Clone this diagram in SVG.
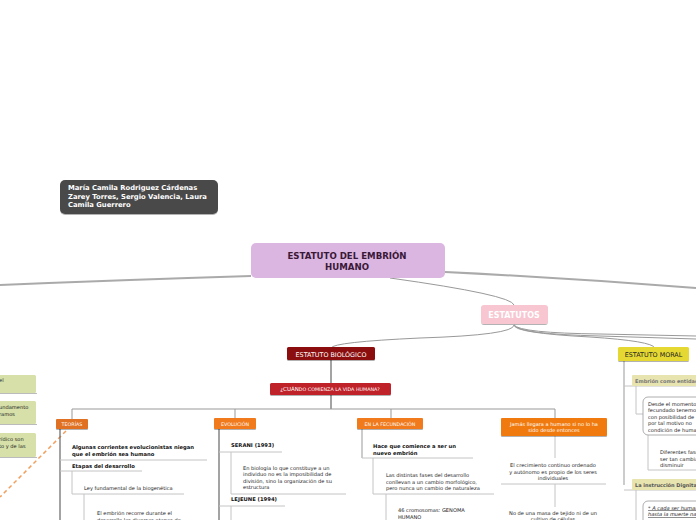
<svg xmlns="http://www.w3.org/2000/svg" width="696" height="520" viewBox="0 0 696 520">
<defs>
<style>
.t{font-family:"DejaVu Sans",Verdana,sans-serif;}
.b{font-weight:bold;}
.sm{font-size:5.1px;fill:#222;}
.smb{font-size:5.25px;fill:#111;font-weight:bold;}
.w{fill:#fff;}
.thick{stroke:#aaa;stroke-width:2;fill:none;}
.c{stroke:#999;stroke-width:1;fill:none;}
.d{stroke:#666;stroke-width:1.2;fill:none;}
.l{stroke:#c4c4c4;stroke-width:1;fill:none;}
.gr{fill:#d6e0a8;}
</style>
<filter id="sh" x="-10%" y="-10%" width="120%" height="140%"><feDropShadow dx="0" dy="1" stdDeviation="0.6" flood-color="#000" flood-opacity="0.3"/></filter>
</defs>
<rect width="696" height="520" fill="#fff"/>
<g id="connectors">
<path class="thick" d="M251,276 Q120,280 0,285"/>
<path class="thick" d="M445,272 Q570,278 696,288"/>
<path class="c" d="M390,278 Q512,295 514,305"/>
<path class="c" d="M514,325 Q514,335 420,338 Q333,342 331,348"/>
<path class="c" d="M514,325 Q514,333 590,337 Q652,341 655,348"/>
<path class="c" d="M514,325 Q518,334 600,336 L696,339"/>
<path class="c" d="M514,325 Q520,333 600,334 L696,336"/>
<path class="d" d="M331,360 V383"/>
<path class="d" d="M331,395 V409"/>
<path class="c" d="M72,409 H555 M72,409 V419 M235,409 V418 M391,409 V418 M555,409 V418"/>
<path d="M66,431 L0,497" stroke="#f0a060" stroke-width="1.5" stroke-dasharray="4,3" fill="none"/>
<path class="d" d="M60,429 V520"/>
<path class="l" d="M60,460 H207 M60,471 H142 M72,471 V494 H184 M84,494 V520"/>
<path class="d" d="M219,429 V520"/>
<path class="l" d="M219,452 H282 M231,452 V494 H346 M219,506 H285 M231,506 V520"/>
<path class="c" d="M362,429 V458"/>
<path class="l" d="M362,458 H473 M373,458 V494 H494 M386,494 V520"/>
<path class="l" d="M555,436 V458 M555,484 V507"/>
<path class="l" d="M501,484 H606" stroke-width="1.5"/>
<path class="c" d="M624,361 V485"/>
<path class="l" d="M624,386 H696 M636,386 V414 H643 M648,435 V470 H696 M624,490 H696 M636,490 V520"/>
</g>
<g id="author"><rect x="60" y="180" width="158" height="34" rx="5" fill="#4a4a4a" filter="url(#sh)"/>
<text class="t b w" font-size="6.8"><tspan x="68" y="190">María Camila Rodriguez Cárdenas</tspan><tspan x="68" y="198.5">Zarey Torres, Sergio Valencia, Laura</tspan><tspan x="68" y="207">Camila Guerrero</tspan></text></g>
<g id="main"><rect x="251" y="243" width="194" height="35" rx="5" fill="#dbb6e0"/>
<text class="t b" font-size="8.6" fill="#3a1838" text-anchor="middle"><tspan x="347" y="258.5">ESTATUTO DEL EMBRIÓN</tspan><tspan x="347" y="269.5">HUMANO</tspan></text></g>
<g id="estatutos"><rect x="481" y="305" width="67" height="19" rx="3" fill="#f8c6d0" filter="url(#sh)"/>
<text class="t b w" font-size="8" x="514" y="318" text-anchor="middle">ESTATUTOS</text></g>
<g id="biologico"><rect x="287" y="347" width="88" height="13" rx="1.5" fill="#8b0c0c" filter="url(#sh)"/>
<text class="t w" font-size="6.4" x="331" y="356.5" text-anchor="middle">ESTATUTO BIOLÓGICO</text></g>
<g id="cuando"><rect x="270" y="383" width="121" height="12" rx="1.5" fill="#c0222a" filter="url(#sh)"/>
<text class="t w" font-size="4.8" x="330" y="391" text-anchor="middle"><tspan font-size="5.5">¿CUÁN</tspan>DO COMIENZA LA VIDA HUMANA?</text></g>
<g id="teorias"><rect x="56" y="419" width="32" height="10" rx="1" fill="#e07020" filter="url(#sh)"/>
<text class="t w" font-size="4.8" x="72" y="426" text-anchor="middle">TEORÍAS</text>
<text class="t smb"><tspan x="72" y="449">Algunas corrientes evolucionistas niegan</tspan><tspan x="72" y="455.5">que el embrión sea humano</tspan></text>
<text class="t smb" x="72" y="468">Etapas del desarrollo</text>
<text class="t sm" x="84" y="490">Ley fundamental de la biogenética</text>
<text class="t sm"><tspan x="97" y="515">El embrión recorre durante el</tspan><tspan x="97" y="521.5">desarrollo las diversas etapas de</tspan></text></g>
<g id="evolucion"><rect x="214" y="418" width="42" height="11" rx="1" fill="#f07a1a" filter="url(#sh)"/>
<text class="t w" font-size="4.8" x="235" y="425.5" text-anchor="middle">EVOLUCIÓN</text>
<text class="t smb" x="231" y="447">SERANI (1993)</text>
<text class="t sm"><tspan x="243" y="469.5">En biología lo que constituye a un</tspan><tspan x="243" y="476">individuo no es la imposibilidad de</tspan><tspan x="243" y="482.5">división, sino la organización de su</tspan><tspan x="243" y="489">estructura</tspan></text>
<text class="t smb" x="231" y="501">LEJEUNE (1994)</text></g>
<g id="fecundacion"><rect x="357" y="418" width="66" height="11" rx="1" fill="#f07a1a" filter="url(#sh)"/>
<text class="t w" font-size="4.8" x="390" y="425.5" text-anchor="middle">EN LA FECUNDACIÓN</text>
<text class="t smb"><tspan x="373" y="448">Hace que comience a ser un</tspan><tspan x="373" y="454.5">nuevo embrión</tspan></text>
<text class="t sm"><tspan x="386" y="477">Las distintas fases del desarrollo</tspan><tspan x="386" y="483.5">conllevan a un cambio morfológico,</tspan><tspan x="386" y="490">pero nunca un cambio de naturaleza</tspan></text>
<text class="t sm"><tspan x="398" y="512">46 cromosomas: GENOMA</tspan><tspan x="398" y="518.5">HUMANO</tspan></text></g>
<g id="jamas"><rect x="501" y="418" width="106" height="18" rx="1" fill="#f07a10" filter="url(#sh)"/>
<text class="t w" font-size="5" text-anchor="middle"><tspan x="554" y="425.5">Jamás llegara a humano si no lo ha</tspan><tspan x="554" y="432">sido desde entonces</tspan></text>
<text class="t sm" text-anchor="middle"><tspan x="553" y="467">El crecimiento continuo ordenado</tspan><tspan x="553" y="473.5">y autónomo es propio de los seres</tspan><tspan x="553" y="480">individuales</tspan></text>
<text class="t sm" text-anchor="middle"><tspan x="553" y="514.5">No de una masa de tejido ni de un</tspan><tspan x="553" y="521">cultivo de células</tspan></text></g>
<g id="moral"><rect x="618" y="347" width="71" height="14" rx="1.5" fill="#e6d830" filter="url(#sh)"/>
<text class="t" font-size="6.4" fill="#222" x="653.5" y="357" text-anchor="middle">ESTATUTO MORAL</text>
<rect x="632" y="375" width="70" height="11" rx="1" fill="#e8e4b0"/>
<text class="t b" font-size="5" fill="#777" x="635" y="382.5">Embrión como entidad</text>
<rect x="643" y="397" width="60" height="38" rx="5" fill="#fff" stroke="#999" stroke-width="0.8"/>
<text class="t sm"><tspan x="648" y="405.5">Desde el momento</tspan><tspan x="648" y="412">fecundado tenemos</tspan><tspan x="648" y="418.5">con posibilidad de</tspan><tspan x="648" y="425">por tal motivo no</tspan><tspan x="648" y="431.5">condición de humano</tspan></text>
<text class="t sm"><tspan x="660" y="454">Diferentes fases</tspan><tspan x="660" y="460.5">ser tan cambiantes</tspan><tspan x="660" y="467">disminuir</tspan></text>
<rect x="632" y="479" width="70" height="11" rx="1" fill="#e8e4b0"/>
<text class="t b" font-size="5" fill="#555" x="635" y="486.5">La instrucción Dignitas</text>
<rect x="643" y="501" width="60" height="25" rx="5" fill="#fff" stroke="#999" stroke-width="0.8"/>
<text class="t sm" font-style="italic" text-decoration="underline"><tspan x="648" y="509.5">* A cada ser humano</tspan><tspan x="648" y="516">hasta la muerte natural</tspan></text></g>
<g id="left">
<rect x="-20" y="375" width="56" height="18" rx="1.5" class="gr"/><path d="M-20,393.5 H37" stroke="#bbb" stroke-width="1"/>
<text class="t sm"><tspan x="-1" y="382">el</tspan></text>
<rect x="-20" y="401" width="56" height="23" rx="1.5" class="gr"/><path d="M-20,424.5 H37" stroke="#bbb" stroke-width="1"/>
<text class="t sm"><tspan x="-1" y="409">undamento</tspan><tspan x="-1" y="415.5">ramos</tspan></text>
<rect x="-20" y="433" width="56" height="24" rx="1.5" class="gr"/><path d="M-20,457.5 H37" stroke="#bbb" stroke-width="1"/>
<text class="t sm"><tspan x="-1" y="441">rídico son</tspan><tspan x="-1" y="447.5">to y de las</tspan></text>
</g>
</svg>
